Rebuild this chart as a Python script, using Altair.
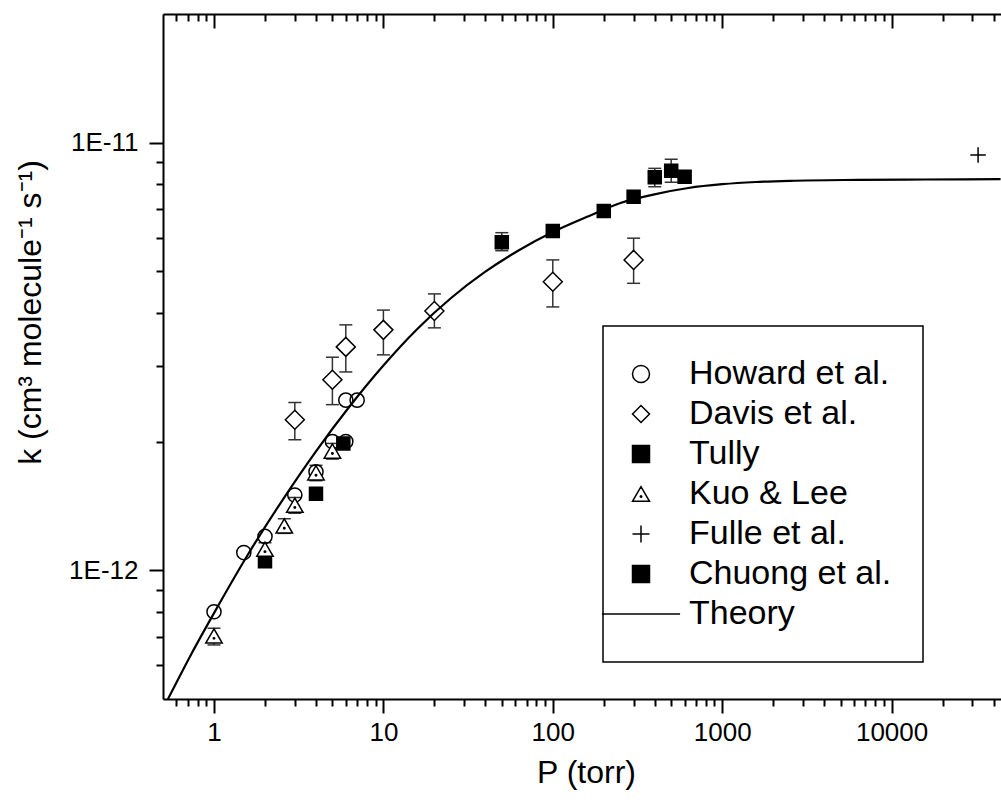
import altair as alt
import pandas as pd

FONT = "Liberation Sans"

# ---------------- data ----------------
studies = ["Howard et al.", "Davis et al.", "Tully", "Kuo & Lee",
           "Fulle et al.", "Chuong et al.", "Theory"]

howard_P = [1, 1.5, 2, 3, 4, 5, 6, 6, 7]
howard_k = [8.0e-13, 1.10e-12, 1.20e-12, 1.50e-12, 1.70e-12, 2.0e-12, 2.0e-12, 2.5e-12, 2.5e-12]

davis_P = [3, 5, 6, 10, 20, 100, 300]
davis_k = [2.25e-12, 2.79e-12, 3.33e-12, 3.65e-12, 4.04e-12, 4.73e-12, 5.32e-12]
davis_lo = [2.02e-12, 2.44e-12, 2.91e-12, 3.19e-12, 3.69e-12, 4.13e-12, 4.69e-12]
davis_hi = [2.47e-12, 3.15e-12, 3.75e-12, 4.06e-12, 4.43e-12, 5.32e-12, 5.98e-12]

tully_P = [2, 4, 5.8]
tully_k = [1.05e-12, 1.51e-12, 1.98e-12]

kuo_P = [1, 2, 2.6, 3, 4, 5]
kuo_k = [7.02e-13, 1.12e-12, 1.27e-12, 1.42e-12, 1.69e-12, 1.90e-12]
kuo_lo = [6.69e-13, 1.08e-12, 1.22e-12, 1.36e-12, 1.62e-12, 1.82e-12]
kuo_hi = [7.32e-13, 1.16e-12, 1.32e-12, 1.48e-12, 1.76e-12, 1.98e-12]

fulle_P = [32400]
fulle_k = [9.36e-12]

chuong_P = [50, 100, 200, 300, 400, 500, 600]
chuong_k = [5.85e-12, 6.22e-12, 6.92e-12, 7.48e-12, 8.30e-12, 8.60e-12, 8.33e-12]
chuong_err_P = [50, 400, 500]
chuong_err_lo = [5.59e-12, 7.89e-12, 8.08e-12]
chuong_err_hi = [6.16e-12, 8.71e-12, 9.15e-12]

theory_P = [0.535, 0.73, 1, 1.58, 2.51, 3.98, 6.31, 10, 15.8, 25.1, 39.8, 63.1, 100,
            158, 251, 398, 631, 1000, 1580, 2510, 6310, 15800, 44000]
theory_k = [5.00e-13, 6.34e-13, 7.94e-13, 1.086e-12, 1.450e-12, 1.893e-12, 2.416e-12,
            3.014e-12, 3.664e-12, 4.334e-12, 4.986e-12, 5.603e-12, 6.180e-12, 6.700e-12,
            7.228e-12, 7.574e-12, 7.836e-12, 7.997e-12, 8.093e-12, 8.145e-12, 8.185e-12,
            8.202e-12, 8.215e-12]

x_major = [1, 10, 100, 1000, 10000]
x_minor = [0.6, 0.7, 0.8, 0.9, 2, 3, 4, 5, 6, 7, 8, 9, 20, 30, 40, 50, 60, 70, 80, 90,
           200, 300, 400, 500, 600, 700, 800, 900, 2000, 3000, 4000, 5000, 6000, 7000,
           8000, 9000, 20000, 30000, 40000]
y_major = [1e-12, 1e-11]
y_minor = [6e-13, 7e-13, 8e-13, 9e-13, 2e-12, 3e-12, 4e-12, 5e-12, 6e-12, 7e-12,
           8e-12, 9e-12]

# ---------------- tables ----------------
def rows(study, P, k):
    return pd.DataFrame({"P": P, "k": k, "Study": study})

points_df = pd.concat([
    rows("Howard et al.", howard_P, howard_k),
    rows("Davis et al.", davis_P, davis_k),
    rows("Tully", tully_P, tully_k),
    rows("Kuo & Lee", kuo_P, kuo_k),
    rows("Fulle et al.", fulle_P, fulle_k),
    rows("Chuong et al.", chuong_P, chuong_k),
], ignore_index=True)

err_df = pd.concat([
    pd.DataFrame({"P": davis_P, "lo": davis_lo, "hi": davis_hi}),
    pd.DataFrame({"P": kuo_P, "lo": kuo_lo, "hi": kuo_hi}),
    pd.DataFrame({"P": chuong_err_P, "lo": chuong_err_lo, "hi": chuong_err_hi}),
], ignore_index=True)

theory_df = pd.DataFrame({"P": theory_P, "k": theory_k})

# ---------------- styling ----------------
shapes = ["circle", "diamond", "square",
          "M0,-0.866L-1,0.866L1,0.866Z M0.09,0.29A0.09,0.09 0 1,1 -0.09,0.29A0.09,0.09 0 1,1 0.09,0.29",
          "M-1,0H1M0,-1V1", "square", "M-4.6,0H4.6"]
fills = ["transparent", "white", "black", "white", "transparent", "black", "transparent"]
strokes = ["black"] * 7
size_expr = ("{'Howard et al.': 200, 'Davis et al.': 361, 'Tully': 169, 'Kuo & Lee': 270,"
             " 'Fulle et al.': 240, 'Chuong et al.': 169}[datum.Study]")

xscale = alt.Scale(type="log", domain=[0.5, 44250], nice=False)
yscale = alt.Scale(type="log", domain=[5e-13, 2e-11], nice=False)

common = dict(tickColor="black", tickWidth=2, domainColor="black", domainWidth=2,
              grid=False, labelFont=FONT, labelColor="black", titleFont=FONT,
              titleColor="black", titleFontWeight="normal")

ax_bottom = alt.Axis(orient="bottom", values=x_major, format="d", tickSize=14,
                     labelFontSize=26, labelPadding=6, labelFlush=False, labelOverlap=False,
                     title="P (torr)", titleFontSize=32, titleX=423, titleY=73,
                     titleAlign="center", titleBaseline="middle", **common)
ax_left = alt.Axis(orient="left", values=y_major,
                   labelExpr="'1E' + round(log(datum.value)/LN10)", tickSize=14,
                   labelFontSize=26, labelPadding=11, labelFlush=False, labelOverlap=False,
                   title="k (cm³ molecule⁻¹ s⁻¹)", titleFontSize=32, titleAngle=270,
                   titleX=-133, titleY=298, titleAlign="center", titleBaseline="middle",
                   **common)

leg = alt.Legend(title=None, orient="none", legendX=440, legendY=312,
                 labelFont=FONT, labelFontSize=34, labelColor="black", labelLimit=400,
                 symbolSize=289, symbolStrokeWidth=1.5, symbolStrokeColor="black",
                 padding=31, rowPadding=6, labelOffset=31, symbolOffset=-10,
                 strokeColor="black", fillColor="white")

X = alt.X("P:Q", scale=xscale, axis=ax_bottom)
Y = alt.Y("k:Q", scale=yscale, axis=ax_left)

err_rule = alt.Chart(err_df).mark_rule(color="#333", strokeWidth=1.5, clip=True).encode(
    x=X, y=alt.Y("lo:Q", scale=yscale, axis=ax_left), y2="hi:Q")
cap_lo = alt.Chart(err_df).mark_tick(orient="horizontal", size=13, thickness=1.5,
                                     color="#333", opacity=1, clip=True).encode(
    x=X, y=alt.Y("lo:Q", scale=yscale, axis=ax_left))
cap_hi = alt.Chart(err_df).mark_tick(orient="horizontal", size=13, thickness=1.5,
                                     color="#333", opacity=1, clip=True).encode(
    x=X, y=alt.Y("hi:Q", scale=yscale, axis=ax_left))

pts = alt.Chart(points_df).transform_calculate(sz=size_expr).mark_point(
    filled=False, strokeWidth=1.5, opacity=1, clip=True).encode(
    x=X, y=Y,
    shape=alt.Shape("Study:N", scale=alt.Scale(domain=studies, range=shapes), legend=leg),
    fill=alt.Fill("Study:N", scale=alt.Scale(domain=studies, range=fills), legend=leg),
    stroke=alt.Stroke("Study:N", scale=alt.Scale(domain=studies, range=strokes), legend=leg),
    size=alt.Size("sz:Q", scale=None, legend=None),
)

line = alt.Chart(theory_df).mark_line(color="black", strokeWidth=2.2, interpolate="monotone",
                                      clip=True).encode(x=X, y=Y)

data_layers = alt.layer(err_rule, cap_lo, cap_hi, pts, line)

# ---------------- extra axes (minor ticks, top frame) ----------------
def x_axis_layer(axis):
    return alt.Chart(theory_df).mark_point(opacity=0).encode(
        x=alt.X("P:Q", scale=xscale, axis=axis))

def y_axis_layer(axis):
    return alt.Chart(theory_df).mark_point(opacity=0).encode(
        y=alt.Y("k:Q", scale=yscale, axis=axis))

bare = dict(tickColor="black", tickWidth=2, grid=False, labels=False, title=None)

ax_bottom_minor = alt.Axis(orient="bottom", values=x_minor, tickSize=7, domain=False, **bare)
ax_top_frame = alt.Axis(orient="top", domain=True, domainColor="black", domainWidth=2,
                        ticks=False, labels=False, grid=False, title=None)
ax_top_major = alt.Axis(orient="top", values=x_major, tickSize=14, offset=-14,
                        domain=False, **bare)
ax_top_minor = alt.Axis(orient="top", values=x_minor, tickSize=7, offset=-7,
                        domain=False, **bare)
ax_left_minor = alt.Axis(orient="left", values=y_minor, tickSize=7, domain=False, **bare)

chart = alt.layer(
    data_layers,
    x_axis_layer(ax_bottom_minor),
    x_axis_layer(ax_top_frame),
    x_axis_layer(ax_top_major),
    x_axis_layer(ax_top_minor),
    y_axis_layer(ax_left_minor),
).resolve_scale(x="independent", y="independent").properties(
    width=838, height=685,
    padding={"left": 163, "top": 14, "right": 0, "bottom": 105},
    autosize=alt.AutoSizeParams(type="none"),
    background="white",
).configure_view(stroke=None).configure_legend(strokeWidth=1.5)

chart.save("out.html", embed_options={"renderer": "svg", "actions": False})
